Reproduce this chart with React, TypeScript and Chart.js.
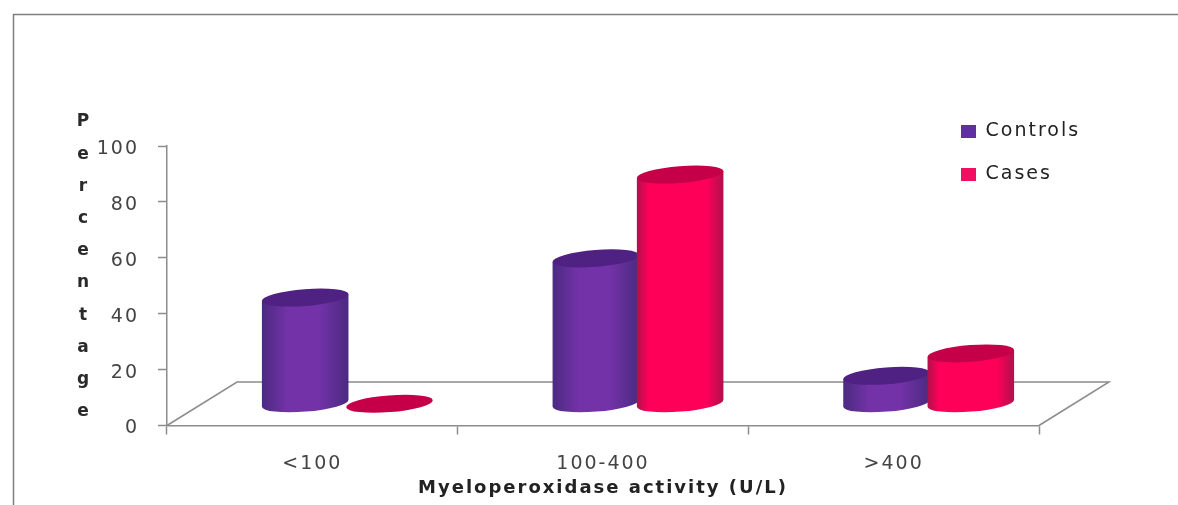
import React, { useEffect, useRef } from "react";
import { Chart, registerables } from "chart.js";

Chart.register(...registerables);

const categories = ["<100", "100-400", ">400"];
const controls = [38, 52, 10];
const cases = [0, 82, 18];
const yTicks = [0, 20, 40, 60, 80, 100];
const yTitleLetters = ["P", "e", "r", "c", "e", "n", "t", "a", "g", "e"];
const xTitle = "Myeloperoxidase activity (U/L)";

const FONT = "'DejaVu Sans', sans-serif";
const DEPTH_X = 70;
const DEPTH_Y = 43.5;
const RY = 8.4;
const TILT = 0.08;

const palettes = [
  { edge: "#4a2a80", mid: "#7332a8", top: "#4f2183", s1: 0.3, s2: 0.66 },
  { edge: "#b0104c", mid: "#ff0058", top: "#c60048", s1: 0.14, s2: 0.8 },
];

function drawCylinder(ctx: CanvasRenderingContext2D, el: any, pal: any) {
  const p = el.getProps(["x", "y", "base", "width"], true);
  const cx = p.x + DEPTH_X / 2;
  const topY = p.y - DEPTH_Y / 2;
  const botY = p.base - DEPTH_Y / 2;
  const rx = p.width / 2;
  const ex = rx * Math.cos(TILT);
  const ey = rx * Math.sin(TILT);
  const g = ctx.createLinearGradient(cx - rx, 0, cx + rx, 0);
  g.addColorStop(0, pal.edge);
  g.addColorStop(pal.s1, pal.mid);
  g.addColorStop(pal.s2, pal.mid);
  g.addColorStop(1, pal.edge);
  ctx.save();
  if (botY - topY > 0.5) {
    ctx.beginPath();
    ctx.moveTo(cx - ex, topY + ey);
    ctx.lineTo(cx - ex, botY + ey);
    ctx.ellipse(cx, botY, rx, RY, -TILT, Math.PI, 0, true);
    ctx.lineTo(cx + ex, topY - ey);
    ctx.closePath();
    ctx.fillStyle = g;
    ctx.fill();
  }
  ctx.beginPath();
  ctx.ellipse(cx, topY, rx, RY, -TILT, 0, Math.PI * 2);
  ctx.fillStyle = pal.top;
  ctx.fill();
  ctx.restore();
}

const cylinderPlugin = {
  id: "cylinders",
  beforeLayout(chart: any) {
    chart.ctx.letterSpacing = "2px";
  },
  afterLayout(chart: any) {
    const lg = chart.legend;
    if (lg) {
      const w = lg.width;
      lg.left = 937;
      lg.right = 937 + w;
      lg.top = 98;
      lg.bottom = 98 + lg.height;
    }
  },
  beforeDraw(chart: any) {
    const ctx = chart.ctx;
    ctx.letterSpacing = "2px";
    ctx.save();
    ctx.strokeStyle = "#7f7f7f";
    ctx.lineWidth = 1.5;
    ctx.beginPath();
    ctx.moveTo(13.5, 505);
    ctx.lineTo(13.5, 14.5);
    ctx.lineTo(1178, 14.5);
    ctx.stroke();
    ctx.restore();
  },
  beforeDatasetsDraw(chart: any) {
    const ctx = chart.ctx;
    const a = chart.chartArea;
    ctx.save();
    ctx.strokeStyle = "#8c8c8c";
    ctx.lineWidth = 1.5;
    ctx.beginPath();
    ctx.moveTo(a.left, a.bottom);
    ctx.lineTo(a.left + DEPTH_X, a.bottom - DEPTH_Y);
    ctx.lineTo(a.right + DEPTH_X, a.bottom - DEPTH_Y);
    ctx.lineTo(a.right, a.bottom);
    ctx.stroke();
    ctx.restore();
    categories.forEach((_, i) => {
      chart.data.datasets.forEach((_d: any, di: number) => {
        drawCylinder(ctx, chart.getDatasetMeta(di).data[i], palettes[di]);
      });
    });
  },
  beforeDatasetDraw() {
    return false;
  },
  afterDraw(chart: any) {
    const ctx = chart.ctx;
    ctx.save();
    ctx.fillStyle = "#2a2a2a";
    ctx.font = `bold 17px ${FONT}`;
    ctx.textAlign = "center";
    ctx.textBaseline = "middle";
    yTitleLetters.forEach((ch, i) => {
      ctx.fillText(ch, 84, 122 + i * 32.2);
    });
    ctx.restore();
  },
};

export default function App() {
  const ref = useRef<HTMLCanvasElement>(null);
  useEffect(() => {
    const chart = new Chart(ref.current as HTMLCanvasElement, {
      type: "bar",
      data: {
        labels: categories,
        datasets: [
          { label: "Controls", data: controls, backgroundColor: "#6030a0" },
          { label: "Cases", data: cases, backgroundColor: "#f00f60" },
        ],
      },
      options: {
        animation: false,
        responsive: false,
        devicePixelRatio: 1,
        layout: { padding: { left: 0, right: 139, top: 146, bottom: 0 } },
        datasets: { bar: { categoryPercentage: 0.58, barPercentage: 1.03 } },
        scales: {
          x: {
            afterFit(s: any) {
              s.height = 79.5;
            },
            grid: {
              drawOnChartArea: false,
              drawTicks: true,
              tickLength: 9,
              tickColor: "#8c8c8c",
              tickWidth: 1.5,
            },
            border: { color: "#8c8c8c", width: 1.5 },
            ticks: {
              padding: 18,
              color: "#444444",
              font: { family: FONT, size: 19 },
              maxRotation: 0,
            },
            title: {
              display: true,
              text: xTitle,
              color: "#222222",
              font: { family: FONT, size: 18, weight: "bold" },
              padding: { top: 0, bottom: 6 },
            },
          },
          y: {
            min: 0,
            max: 100,
            afterFit(s: any) {
              s.width = 167;
            },
            afterBuildTicks(s: any) {
              s.ticks = yTicks.map((value) => ({ value }));
            },
            grid: {
              drawOnChartArea: false,
              drawTicks: true,
              tickLength: 9,
              tickColor: "#8c8c8c",
              tickWidth: 1.5,
            },
            border: { color: "#8c8c8c", width: 1.5 },
            ticks: {
              padding: 19,
              labelOffset: 3,
              color: "#444444",
              font: { family: FONT, size: 19 },
            },
          },
        },
        plugins: {
          tooltip: { enabled: false },
          title: { display: false },
          legend: {
            display: true,
            position: "chartArea",
            align: "start",
            labels: {
              boxWidth: 15,
              boxHeight: 13,
              padding: 24,
              color: "#222222",
              font: { family: FONT, size: 19 },
            },
          },
        },
      } as any,
      plugins: [cylinderPlugin as any],
    });
    return () => chart.destroy();
  }, []);
  return (
    <div style={{ position: "fixed", left: 0, top: 0, width: 1178, height: 505, background: "#ffffff", overflow: "hidden" }}>
      <canvas ref={ref} width={1178} height={505} style={{ display: "block", filter: "blur(0.5px)" }} />
    </div>
  );
}
